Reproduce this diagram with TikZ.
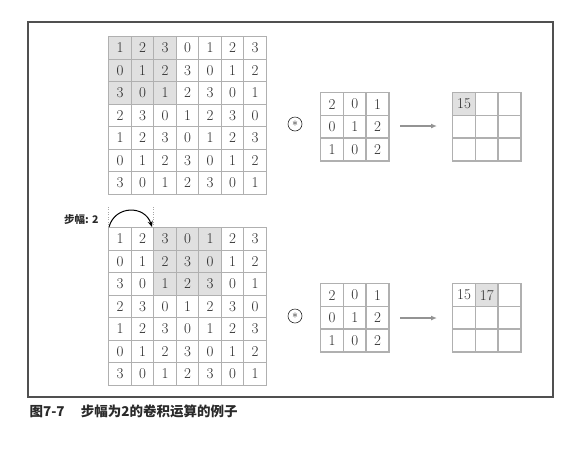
\documentclass[tikz,border=0pt]{standalone}
\usepackage{fontspec}
\newfontfamily\cjk{Noto Sans CJK SC}
\usetikzlibrary{arrows.meta}
\definecolor{gridgray}{HTML}{B0B0B0}
\definecolor{shadegray}{HTML}{E0E0E0}
\definecolor{framegray}{HTML}{505050}
\definecolor{txt}{HTML}{2A2A2A}
\begin{document}
\begin{tikzpicture}[x=1pt,y=-1pt,
  cell/.style={draw=gridgray, line width=1.4pt, minimum size=22.5pt, inner sep=0pt,
    anchor=north west, text=txt, font=\fontsize{15}{15}\selectfont},
  kcell/.style={cell, minimum size=22.7pt},
  shaded/.style={fill=shadegray},
  conv/.style={circle, draw=txt, line width=0.6pt, minimum size=14pt, inner sep=0pt,
    font=\fontsize{13}{13}\selectfont, text=txt},
  flow/.style={draw=gray!85, line width=2pt, -{Latex[length=6pt,width=5pt]}},
  stride/.style={draw=black, line width=1pt, -{Stealth[length=6pt,width=5pt]}},
  guide/.style={draw=gray!70, line width=0.5pt, dotted}]
\useasboundingbox (0,0) rectangle (567,459);
% frame
\draw[framegray, line width=1.2pt] (28,22) rectangle (553,397);

% ---------- top: input ----------
\fill[shadegray] (108,36) rectangle ++(67.5,67.5);
\foreach \r/\row in {0/{1,2,3,0,1,2,3},1/{0,1,2,3,0,1,2},2/{3,0,1,2,3,0,1},
                     3/{2,3,0,1,2,3,0},4/{1,2,3,0,1,2,3},5/{0,1,2,3,0,1,2},
                     6/{3,0,1,2,3,0,1}}{
  \foreach \v [count=\c from 0] in \row {
    \node[cell] (a-\r-\c) at ({108+22.5*\c},{36+22.5*\r}) {\v};
  }
}
% top kernel
\foreach \r/\row in {0/{2,0,1},1/{0,1,2},2/{1,0,2}}{
  \foreach \v [count=\c from 0] in \row {
    \node[kcell] (k-\r-\c) at ({320+22.7*\c},{92+22.7*\r}) {\v};
  }
}
\node[conv] (op1) at (295,124) {\raisebox{-0.35ex}{$\ast$}};
% top output
\foreach \r in {0,1,2}{
  \foreach \c in {0,1,2}{
    \node[kcell] (o-\r-\c) at ({452+22.7*\c},{92+22.7*\r}) {};
  }
}
\node[kcell, shaded] at (o-0-0.north west) {15};
\coordinate (f1s) at (400,126);
\coordinate (f1e) at (437,126);
\draw[flow] (f1s) -- (f1e);

% ---------- bottom: input ----------
\fill[shadegray] (153,227) rectangle ++(67.5,67.5);
\foreach \r/\row in {0/{1,2,3,0,1,2,3},1/{0,1,2,3,0,1,2},2/{3,0,1,2,3,0,1},
                     3/{2,3,0,1,2,3,0},4/{1,2,3,0,1,2,3},5/{0,1,2,3,0,1,2},
                     6/{3,0,1,2,3,0,1}}{
  \foreach \v [count=\c from 0] in \row {
    \node[cell] (b-\r-\c) at ({108+22.5*\c},{227+22.5*\r}) {\v};
  }
}
\foreach \r/\row in {0/{2,0,1},1/{0,1,2},2/{1,0,2}}{
  \foreach \v [count=\c from 0] in \row {
    \node[kcell] (m-\r-\c) at ({320+22.7*\c},{283+22.7*\r}) {\v};
  }
}
\node[conv] (op2) at (295,316) {\raisebox{-0.35ex}{$\ast$}};
\foreach \r in {0,1,2}{
  \foreach \c in {0,1,2}{
    \node[kcell] (p-\r-\c) at ({452+22.7*\c},{283+22.7*\r}) {};
  }
}
\node[kcell] at (p-0-0.north west) {15};
\node[kcell, shaded] at (p-0-1.north west) {17};
\coordinate (f2s) at (400,318);
\coordinate (f2e) at (437,318);
\draw[flow] (f2s) -- (f2e);

% stride annotation
\draw[guide] (b-0-0.north west) -- ++(0,-22);
\draw[guide] (b-0-2.north west) -- ++(0,-22);
\draw[stride] ([xshift=1pt]b-0-0.north west) .. controls (115,205) and (145,205) .. ([xshift=-1pt]b-0-2.north west);
\node[anchor=east, text=txt, font=\cjk\bfseries\fontsize{10.5}{10.5}\selectfont] (lbl) at (102,220) {步幅: 2};

% caption
\node[anchor=west, text=txt, font=\cjk\bfseries\fontsize{13.5}{13.5}\selectfont] (cap) at (26,411)
  {图7-7\hspace{1.2em}步幅为2的卷积运算的例子};
\end{tikzpicture}
\end{document}
